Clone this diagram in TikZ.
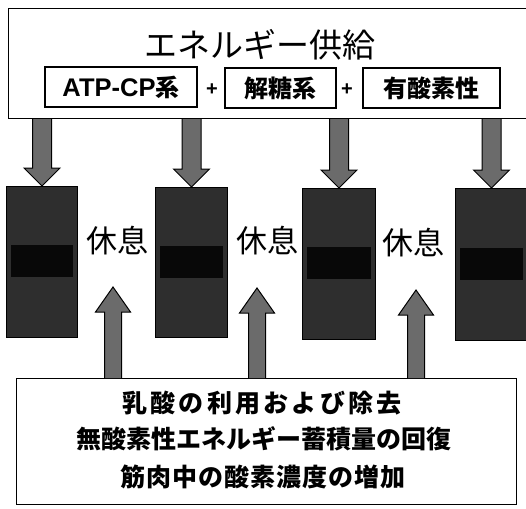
\documentclass[tikz,border=0pt]{standalone}
\usepackage{fontspec}
\setmainfont{Liberation Sans}
\newfontfamily\jp{Noto Sans CJK JP}
\usetikzlibrary{calc}
\tikzset{
  frame/.style={draw=black, line width=1.2pt, fill=white},
  subbox/.style={draw=black, line width=1.1pt, fill=white, minimum height=40pt, inner sep=0pt, font=\jp\bfseries\fontsize{24}{26}\selectfont},
  work/.style={draw=black, line width=1pt, fill=black!82, inner sep=0pt, anchor=north west},
  band/.style={fill=black!97, draw=none},
  barrow/.style={draw=black, line width=1pt, fill=black!58, line join=miter},
  rest/.style={font=\jp\fontsize{31}{33}\selectfont, inner sep=0pt},
  plus/.style={font=\rmfamily\bfseries\fontsize{20}{22}\selectfont, inner sep=0pt},
  effect/.style={font=\jp\bfseries\fontsize{25}{27}\selectfont, inner sep=0pt},
}
\newcommand\arrdown[2]{%
  \path[barrow] ($(#1.north |- #2.south)+(-9.5,0)$) -- ($(#1.north)+(-9.5,-18)$) -- ($(#1.north)+(-18,-18)$) -- (#1.north) -- ($(#1.north)+(18,-18)$) -- ($(#1.north)+(9.5,-18)$) -- ($(#1.north |- #2.south)+(9.5,0)$);}
\newcommand\arrup[2]{%
  \path[barrow] ($(#1 |- #2.north)+(-8.5,0)$) -- ($(#1)+(-8.5,25)$) -- ($(#1)+(-17.5,25)$) -- (#1) -- ($(#1)+(17.5,25)$) -- ($(#1)+(8.5,25)$) -- ($(#1 |- #2.north)+(8.5,0)$);}
\begin{document}
\begin{tikzpicture}[x=1pt, y=-1pt]
\useasboundingbox (0,0) rectangle (526,508);
\fill[white] (0,0) rectangle (526,508);
% top box
\node[frame, anchor=north west, minimum width=540pt, minimum height=110pt, inner sep=0pt] (top) at (8,8) {};
\node[font=\jp\fontsize{33}{35}\selectfont, inner sep=0pt] (title) at (260,45) {エネルギー供給};
\node[subbox, minimum width=152pt] (atp) at (121,87) {{\rmfamily\bfseries\fontsize{25.5}{27}\selectfont ATP-CP}系};
\node[plus] (p1) at (212,90) {+};
\node[subbox, minimum width=111pt] (glyc) at (280.5,88) {解糖系};
\node[plus] (p2) at (347,90) {+};
\node[subbox, minimum width=137pt] (aer) at (431.5,88) {有酸素性};
% work blocks
\node[work, minimum width=71pt, minimum height=151pt] (b1) at (6,186) {};
\node[work, minimum width=72pt, minimum height=150pt] (b2) at (155,187) {};
\node[work, minimum width=73pt, minimum height=151pt] (b3) at (302,188) {};
\node[work, minimum width=72pt, minimum height=152pt] (b4) at (455,188) {};
\foreach \b in {b1,b2,b3,b4}{
  \fill[band] ($(\b.west)+(5,-17)$) rectangle ($(\b.east)+(-5,15)$);
}
% rest labels
\node[rest] (r1) at (117,241) {休息};
\node[rest] (r2) at (267,241) {休息};
\node[rest] (r3) at (413,243) {休息};
% bottom box
\node[frame, anchor=north west, minimum width=500pt, minimum height=126pt, inner sep=0pt] (bot) at (16,378) {};
\node[effect] (e1) at (262,403) {\addfontfeatures{LetterSpace=13}乳酸の利用および除去};
\node[effect] (e2) at (264,439) {無酸素性エネルギー蓄積量の回復};
\node[effect] (e3) at (263,477) {\addfontfeatures{LetterSpace=4}筋肉中の酸素濃度の増加};
% supply arrows
\arrdown{b1}{top}
\arrdown{b2}{top}
\arrdown{b3}{top}
\arrdown{b4}{top}
% recovery arrows
\coordinate (u1) at (113,287);
\coordinate (u2) at (257,288);
\coordinate (u3) at (416,290);
\arrup{u1}{bot}
\arrup{u2}{bot}
\arrup{u3}{bot}
\end{tikzpicture}
\end{document}
